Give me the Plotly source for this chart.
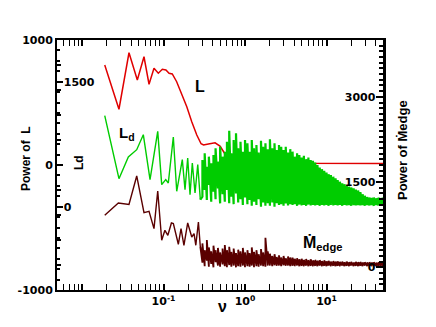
import plotly.graph_objects as go

# ---------------- data ----------------
nu_red = [0.019, 0.0284, 0.0377, 0.0477, 0.0576, 0.0664, 0.0764, 0.0863, 0.0967, 0.107,
          0.117, 0.128, 0.145, 0.167, 0.193, 0.222, 0.256, 0.289, 0.31, 0.355,
          0.429, 0.493, 0.569, 0.718, 0.911, 1.15, 1.68, 3.10, 5.0, 10.0,
          20.0, 30.0, 40.0, 50.0]
pow_L = [800, 446, 898, 680, 866, 646, 774, 734, 766, 760,
         734, 728, 666, 574, 466, 346, 240, 170, 160, 168,
         178, 152, 88, 66, 54, 46, 32, 18, 14, 12,
         10, 12, 8, 12]

nu_green = [0.019, 0.0284, 0.0370, 0.0469, 0.0565, 0.0683, 0.0849, 0.0950, 0.1064, 0.1145,
            0.1319, 0.1452, 0.170, 0.1835, 0.198, 0.2115, 0.2256, 0.2436, 0.263, 0.283]
pow_Ld = [1092, 336, 596, 684, 864, 324, 904, 264, 324, 284,
          836, 184, 564, 204, 584, 144, 524, 164, 504, 84]

nu_brown = [0.019, 0.0279, 0.0377, 0.0469, 0.0576, 0.0664, 0.0764, 0.0849, 0.095, 0.104,
            0.113, 0.125, 0.132, 0.152, 0.164, 0.178, 0.198, 0.222, 0.237, 0.249,
            0.268, 0.283]
pow_Medge = [915, 1132, 1104, 1607, 963, 986, 681, 1343, 475, 651,
             563, 780, 769, 405, 681, 387, 780, 533, 593, 387,
             797, 357]

# high-frequency (dense, noisy) part: lower / upper swing at each frequency
nu_hi = [0.30, 0.32, 0.34, 0.36, 0.385, 0.41, 0.435, 0.465, 0.495, 0.53,
         0.565, 0.60, 0.64, 0.68, 0.725, 0.775, 0.825, 0.88, 0.94, 1.0,
         1.07, 1.14, 1.21, 1.29, 1.38, 1.47, 1.57, 1.67, 1.78, 1.90,
         2.02, 2.16, 2.30, 2.45, 2.61, 2.78, 2.97, 3.16, 3.37, 3.59,
         3.83, 4.08, 4.35, 4.64, 4.95, 5.27, 5.62, 5.99, 6.39, 6.81,
         7.26, 7.74, 8.25, 8.79, 9.37, 9.99, 10.6, 11.3, 12.1, 12.9,
         13.7, 14.6, 15.6, 16.6, 17.7, 18.9, 20.1, 21.5, 22.9, 24.4,
         26.0, 27.7, 29.5, 31.5, 33.6, 35.8, 38.1, 40.6, 43.3, 46.2, 49.2]
Ld_hi_top = [560, 640, 480, 600, 520, 620, 700, 540, 720, 600,
             660, 780, 910, 640, 800, 880, 700, 780, 660, 800,
             760, 660, 800, 700, 740, 650, 790, 720, 760, 690,
             810, 700, 760, 680, 740, 720, 680, 720, 650, 690,
             660, 600, 640, 620, 590, 610, 570, 590, 560, 550,
             530, 500, 470, 450, 430, 410, 390, 380, 360, 340,
             320, 300, 280, 270, 250, 240, 230, 220, 205, 195,
             175, 150, 130, 115, 110, 105, 110, 100, 108, 104, 110]
Ld_hi_bot = [120, 200, 80, 260, 60, 180, 90, 220, 40, 150,
             60, 200, 40, 120, 30, 160, 50, 90, 20, 110,
             30, 80, 10, 60, 20, 90, 0, 50, 10, 40,
             10, 50, 0, 40, 20, 30, 10, 40, 15, 30,
             20, 30, 10, 25, 15, 20, 10, 25, 15, 20,
             15, 20, 10, 20, 15, 20, 10, 20, 15, 20,
             15, 20, 10, 20, 15, 20, 10, 20, 15, 20,
             15, 20, 10, 20, 15, 20, 10, 20, 15, 20, 15]
Me_hi_top = [420, 300, 480, 350, 280, 380, 300, 340, 260, 330,
             390, 300, 360, 270, 330, 250, 310, 280, 340, 260,
             300, 250, 350, 270, 300, 230, 320, 260, 520, 280,
             240, 200, 230, 180, 210, 170, 200, 160, 190, 170,
             170, 150, 160, 140, 150, 130, 145, 125, 140, 120,
             130, 115, 125, 110, 120, 105, 115, 100, 110, 100,
             105, 95, 100, 90, 100, 90, 95, 85, 95, 88,
             92, 85, 90, 82, 90, 85, 88, 80, 90, 85, 88]
Me_hi_bot = [80, 20, 120, 10, 60, 0, 90, 30, 10, 50,
             20, 0, 40, 10, 30, 0, 20, 10, 30, 0,
             20, 10, 30, 0, 20, 10, 30, 20, 10, 30,
             30, 20, 35, 25, 30, 20, 35, 25, 30, 20,
             25, 20, 30, 20, 25, 20, 30, 20, 25, 20,
             25, 20, 30, 20, 25, 20, 30, 20, 25, 20,
             25, 20, 30, 20, 25, 20, 30, 20, 25, 20,
             25, 20, 30, 20, 25, 20, 30, 20, 25, 20, 25]

x_tick_vals = [0.01, 0.1, 1, 10]
x_tick_text = ["<b>10<sup>-2</sup></b>", "<b>10<sup>-1</sup></b>",
               "<b>10<sup>0</sup></b>", "<b>10<sup>1</sup></b>"]

assert len(nu_red) == len(pow_L)
assert len(nu_green) == len(pow_Ld)
assert len(nu_brown) == len(pow_Medge)
for arr in (Ld_hi_top, Ld_hi_bot, Me_hi_top, Me_hi_bot):
    assert len(arr) == len(nu_hi), len(arr)


def band(nu, lo, hi):
    xs, ys = [], []
    for f, a, b in zip(nu, lo, hi):
        xs += [f, f]
        ys += [a, b]
    return xs, ys


gx, gy = band(nu_hi, Ld_hi_bot, Ld_hi_top)
bx, by = band(nu_hi, Me_hi_bot, Me_hi_top)

RED = "#e00000"
GREEN = "#00cc00"
BROWN = "#5a0000"

fig = go.Figure()
fig.add_trace(go.Scatter(x=nu_brown, y=pow_Medge, mode="lines",
                         line=dict(color=BROWN, width=1.4), yaxis="y3"))
fig.add_trace(go.Scatter(x=nu_brown[-1:] + bx, y=pow_Medge[-1:] + by, mode="lines",
                         line=dict(color=BROWN, width=1.8), yaxis="y3"))
fig.add_trace(go.Scatter(x=nu_green, y=pow_Ld, mode="lines",
                         line=dict(color=GREEN, width=1.4), yaxis="y2"))
fig.add_trace(go.Scatter(x=nu_green[-1:] + gx, y=pow_Ld[-1:] + gy, mode="lines",
                         line=dict(color=GREEN, width=2.2), yaxis="y2"))
fig.add_trace(go.Scatter(x=nu_red, y=pow_L, mode="lines",
                         line=dict(color=RED, width=1.5), yaxis="y"))

# the page body adds an 8 px offset; plot-area frame in window pixels
OFF = 8
W, H = 436 - OFF, 327 - OFF
PL, PR, PT, PB = 57, 383, 40, 290


def P(px, py):
    return (px - PL) / (PR - PL), (PB - py) / (PB - PT)


minor_x = [m * 10 ** e for e in range(-3, 2) for m in range(2, 10)]
TF = dict(family="DejaVu Sans", size=11, color="black")

fig.update_layout(
    width=W, height=H,
    margin=dict(l=PL - OFF, r=W - (PR - OFF), t=PT - OFF, b=H - (PB - OFF),
                autoexpand=False),
    paper_bgcolor="white", plot_bgcolor="white",
    showlegend=False,
    font=dict(family="Liberation Sans", color="black"),
    xaxis=dict(type="log", range=[-2.307, 1.693], showgrid=False, zeroline=False,
               showline=True, linecolor="black", linewidth=2, mirror="allticks",
               ticks="inside", ticklen=6, tickwidth=1.5, tickcolor="black",
               tickvals=x_tick_vals, ticktext=x_tick_text, tickfont=TF,
               minor=dict(tickvals=minor_x, ticks="inside", ticklen=3,
                          tickwidth=1, tickcolor="black")),
    yaxis=dict(range=[-1000, 1000], showgrid=False, zeroline=False,
               showline=True, linecolor="black", linewidth=2, mirror=True,
               ticks="inside", ticklen=6, tickwidth=1.5, tickcolor="black",
               tickvals=[-1000, 0, 1000],
               ticktext=["<b>-1000</b>", "<b>0</b>", "<b>1000</b>"], tickfont=TF,
               minor=dict(dtick=200, ticks="inside", ticklen=4, tickcolor="black")),
    yaxis2=dict(range=[-1000, 2000], overlaying="y", side="left", anchor="x",
                showgrid=False, zeroline=False, showline=False,
                ticks="inside", ticklen=6, tickwidth=1.5, tickcolor="black",
                ticklabelposition="inside",
                tickvals=[0, 1500], ticktext=["<b>0</b>", "<b>1500</b>"], tickfont=TF,
                minor=dict(dtick=125, ticks="inside", ticklen=3, tickcolor="black")),
    yaxis3=dict(range=[-400, 4000], overlaying="y", side="right", anchor="x",
                showgrid=False, zeroline=False, showline=True,
                linecolor="black", linewidth=2.5,
                ticks="inside", ticklen=7, tickwidth=1.5, tickcolor="black",
                ticklabelposition="inside",
                tickvals=[0, 1500, 3000],
                ticktext=["<b>0</b>", "<b>1500</b>", "<b>3000</b>"], tickfont=TF,
                minor=dict(dtick=100, ticks="inside", ticklen=4, tickcolor="black")),
)


def ann(text, px, py, size, angle=0):
    x, y = P(px, py)
    fig.add_annotation(text=text, x=x, y=y, xref="paper", yref="paper",
                       showarrow=False, xanchor="center", yanchor="middle",
                       textangle=angle,
                       font=dict(family="Liberation Sans", size=size, color="black"))


ann("<b>L</b>", 200, 86, 16)
ann("<b>L<sub>d</sub></b>", 127, 133, 15)
ann("<b>Ṁ<sub>edge</sub></b>", 322, 243, 16)
ann("<b>ν</b>", 222, 306, 16)
ann("<b>Power of  L</b>", 26, 158, 12, -90)
ann("<b>Ld</b>", 79, 163, 12, -90)
ann("<b>Power of Ṁedge</b>", 402, 150, 13, -90)

fig.write_html("out.html")
